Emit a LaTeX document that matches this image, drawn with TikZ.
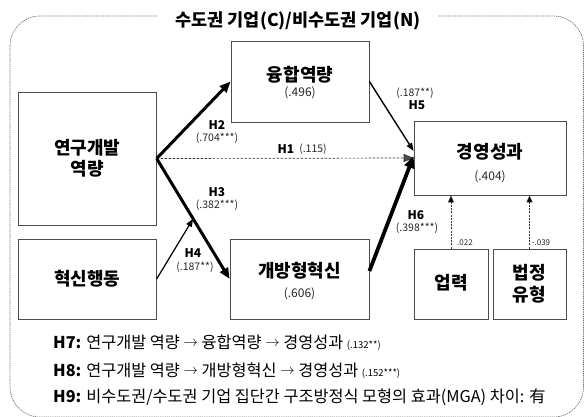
\documentclass[tikz,border=0pt]{standalone}
\usepackage{fontspec}
\setmainfont{Noto Sans CJK KR}
\usetikzlibrary{arrows.meta,calc}
\newcommand{\sarr}{\raisebox{2.5pt}{\fontsize{14}{15}\selectfont$\rightarrow$}}
\tikzset{
  box/.style={draw=black!70, line width=0.8pt, inner sep=0pt},
  lbl/.style={font=\bfseries\fontsize{18}{21}\selectfont, inner sep=0pt, align=center},
  num/.style={font=\fontsize{12}{14}\selectfont, text=black!85, inner sep=0pt},
  hyp/.style={font=\bfseries\fontsize{12}{14}\selectfont, inner sep=0pt},
  coef/.style={font=\fontsize{10.5}{12}\selectfont, text=black!85, inner sep=0pt},
  tiny/.style={font=\fontsize{8}{9}\selectfont, text=black!85, inner sep=0pt},
  line/.style={font=\fontsize{16.3}{18}\selectfont, inner sep=0pt, anchor=west},
  frame/.style={draw=black!55, line width=0.7pt, dash pattern=on 1.3pt off 0.9pt},
  bigarrow/.style={line width=3pt, -{Triangle[length=11pt,width=9pt]}},
  hugearrow/.style={line width=3.8pt, -{Triangle[length=12pt,width=10pt]}},
  thinarrow/.style={line width=1.2pt, -{Triangle[length=8pt,width=6pt]}},
  dasharrow/.style={line width=0.7pt, dash pattern=on 2.5pt off 1.5pt, -{Triangle[length=10pt,width=8pt,fill=black!70]}, draw=black!80},
  smallarrow/.style={line width=0.6pt, dash pattern=on 2pt off 1.2pt, draw=black!80, -{Triangle[length=7pt,width=6pt,fill=black]}}
}
\begin{document}
\begin{tikzpicture}[x=1pt,y=-1pt]
\useasboundingbox (0,0) rectangle (585,416);
% outer frame and title
\draw[frame, rounded corners=30pt] (10,16) rectangle (583.5,417);
\node[fill=white, inner xsep=18pt, inner ysep=2pt, font=\bfseries\fontsize{17.5}{20}\selectfont] (title) at (298,21) {수도권 기업(C)/비수도권 기업(N)};

% boxes
\node[box, minimum width=138pt, minimum height=133pt] (rd) at (87.25,158.5) {};
\node[box, minimum width=138pt, minimum height=80pt] (hx) at (87.25,279) {};
\node[box, minimum width=138pt, minimum height=81pt] (yh) at (300,81.5) {};
\node[box, minimum width=139pt, minimum height=80pt] (oi) at (299.5,279) {};
\node[box, minimum width=152pt, minimum height=74pt] (pm) at (490,158) {};
\node[box, minimum width=74pt, minimum height=70pt] (ag) at (451,284) {};
\node[box, minimum width=73pt, minimum height=70pt] (lt) at (529.5,284) {};

% box texts
\node[lbl] (rdt) at (87.25,158) {연구개발\\역량};
\node[lbl] (hxt) at (87.25,279) {혁신행동};
\node[lbl] (yht) at (300,75) {융합역량};
\node[num] (yhn) at (300,93) {(.496)};
\node[lbl] (oit) at (299.5,271) {개방형혁신};
\node[num] (oin) at (299.5,294) {(.606)};
\node[lbl] (pmt) at (490,152) {경영성과};
\node[num] (pmn) at (490,177) {(.404)};
\node[lbl] (agt) at (451,283) {업력};
\node[lbl, font=\bfseries\fontsize{18}{22}\selectfont] (ltt) at (529.5,284) {법정\\유형};

% connectors
\coordinate (mid) at ($(rd.east)!0.5!(oi.west)$);
\draw[dasharrow] (rd.east) -- (pm.west);
\draw[bigarrow] (rd.east) -- (yh.west);
\draw[bigarrow] (rd.east) -- (oi.west);
\draw[thinarrow] (hx.east) -- (mid);
\draw[thinarrow, line width=1.4pt] (yh.east) -- ([yshift=7pt]pm.west);
\draw[hugearrow] ([yshift=8pt]oi.east) -- ([yshift=2pt]pm.west);
\draw[smallarrow] (ag.north) -- (ag.north |- pm.south);
\draw[smallarrow] (lt.north) -- (lt.north |- pm.south);

% path labels
\node[hyp] (h2) at (217,125) {H2};
\node[coef] (c2) at (217,138) {(.704***)};
\node[hyp] (h1) at (286,149) {H1};
\node[coef] (c1) at (313,149) {(.115)};
\node[hyp] (h3) at (217,192) {H3};
\node[coef] (c3) at (217,205) {(.382***)};
\node[hyp] (h4) at (193,253) {H4};
\node[coef] (c4) at (195,267) {(.187**)};
\node[coef] (c5) at (415,93) {(.187**)};
\node[hyp] (h5) at (417,105) {H5};
\node[hyp] (h6) at (416,215) {H6};
\node[coef] (c6) at (417,228) {(.398***)};
\node[tiny] (c7) at (465,243) {.022};
\node[tiny] (c8) at (541,243) {-.039};

% bottom lines
\node[line] (l7) at (53,343) {\textbf{H7:} 연구개발 역량 \sarr{} 융합역량 \sarr{} 경영성과 {\fontsize{9.5}{11}\selectfont (.132**)}};
\node[line] (l8) at (53,371) {\textbf{H8:} 연구개발 역량 \sarr{} 개방형혁신 \sarr{} 경영성과 {\fontsize{9.5}{11}\selectfont (.152***)}};
\node[line] (l9) at (53,397) {\textbf{H9:} 비수도권/수도권 기업 집단간 구조방정식 모형의 효과(MGA) 차이: 有};
\end{tikzpicture}
\end{document}
